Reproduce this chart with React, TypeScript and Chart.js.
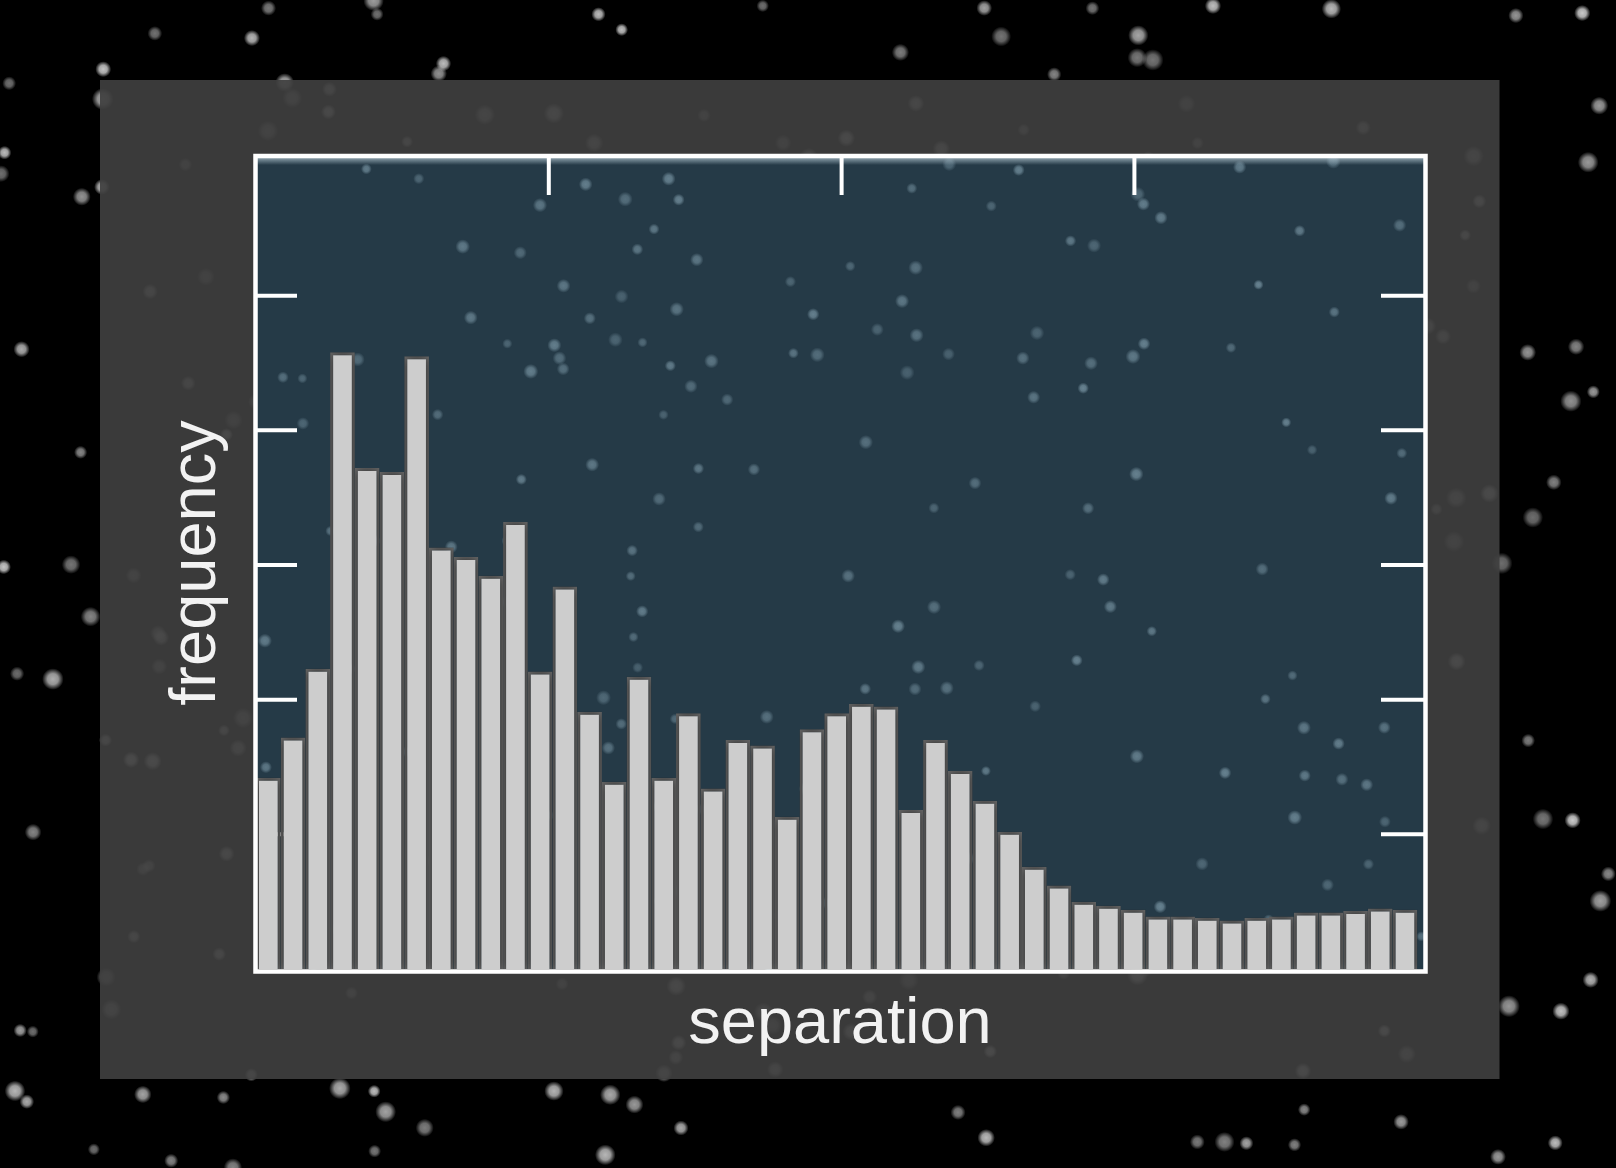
import React, { useEffect, useRef } from "react";
import { Chart, registerables } from "chart.js";

Chart.register(...registerables);

// ---- data ----
const binCenters = [
  0.5, 1.5, 2.5, 3.5, 4.5, 5.5, 6.5, 7.5, 8.5, 9.5,
  10.5, 11.5, 12.5, 13.5, 14.5, 15.5, 16.5, 17.5, 18.5, 19.5,
  20.5, 21.5, 22.5, 23.5, 24.5, 25.5, 26.5, 27.5, 28.5, 29.5,
  30.5, 31.5, 32.5, 33.5, 34.5, 35.5, 36.5, 37.5, 38.5, 39.5,
  40.5, 41.5, 42.5, 43.5, 44.5, 45.5, 46.5,
];
const frequencies = [
  1.42, 1.72, 2.23, 4.58, 3.72, 3.69, 4.55, 3.13, 3.06, 2.92,
  3.32, 2.21, 2.84, 1.91, 1.39, 2.17, 1.42, 1.9, 1.34, 1.7,
  1.66, 1.13, 1.78, 1.9, 1.97, 1.95, 1.18, 1.7, 1.47, 1.25,
  1.02, 0.76, 0.62, 0.5, 0.47, 0.44, 0.39, 0.39, 0.38, 0.36,
  0.38, 0.39, 0.42, 0.42, 0.43, 0.45, 0.44,
];
const yTickValues = [1, 2, 3, 4, 5];
const xTickValues = [11.85, 23.7, 35.55];
const X_MIN = 0;
const X_MAX = 47.27;
const Y_MIN = 0;
const Y_MAX = 6.03;
const xTitle = "separation";
const yTitle = "frequency";

const FONT = '"Liberation Sans", Arial, Helvetica, sans-serif';

function seeded(a: number) {
  return function () {
    a |= 0;
    a = (a + 0x6d2b79f5) | 0;
    let t = Math.imul(a ^ (a >>> 15), 1 | a);
    t = (t + Math.imul(t ^ (t >>> 7), 61 | t)) ^ t;
    return ((t ^ (t >>> 14)) >>> 0) / 4294967296;
  };
}

function softDot(ctx: CanvasRenderingContext2D, x: number, y: number, r: number, rgb: string, a: number) {
  const g = ctx.createRadialGradient(x, y, 0, x, y, r);
  g.addColorStop(0, `rgba(${rgb},${a})`);
  g.addColorStop(0.5, `rgba(${rgb},${a * 0.85})`);
  g.addColorStop(1, `rgba(${rgb},0)`);
  ctx.fillStyle = g;
  ctx.beginPath();
  ctx.arc(x, y, r, 0, Math.PI * 2);
  ctx.fill();
}

const backdropPlugin = {
  id: "backdrop",
  beforeDraw(chart: any) {
    const { ctx, width, height, chartArea: ca, scales } = chart;
    ctx.save();
    // night sky
    ctx.fillStyle = "#000";
    ctx.fillRect(0, 0, width, height);
    const rnd = seeded(11);
    for (let i = 0; i < 300; i++) {
      const x = rnd() * width;
      const y = rnd() * height;
      const r = 6 + rnd() * 5;
      const a = 0.5 + rnd() * 0.45;
      softDot(ctx, x, y, r, "215,215,215", a);
    }
    // grey panel (slightly translucent)
    ctx.fillStyle = "rgba(63,63,63,0.92)";
    const pl = ca.left - 156;
    const pt = ca.top - 77;
    const pr = ca.right + 75.5;
    const pb = ca.bottom + 110;
    ctx.fillRect(pl, pt, pr - pl, pb - pt);
    // plot background
    ctx.fillStyle = "#253a47";
    ctx.fillRect(ca.left, ca.top, ca.right - ca.left, ca.bottom - ca.top);
    const rnd2 = seeded(97);
    for (let i = 0; i < 170; i++) {
      const x = ca.left + rnd2() * (ca.right - ca.left);
      const y = ca.top + rnd2() * (ca.bottom - ca.top);
      const r = 5 + rnd2() * 2.5;
      const a = 0.35 + rnd2() * 0.3;
      softDot(ctx, x, y, r, "140,170,185", a);
    }
    // light band under the top frame
    const band = ctx.createLinearGradient(0, ca.top, 0, ca.top + 8);
    band.addColorStop(0, "rgba(190,210,220,0.75)");
    band.addColorStop(1, "rgba(190,210,220,0)");
    ctx.fillStyle = band;
    ctx.fillRect(ca.left, ca.top, ca.right - ca.left, 8);
    // inward ticks
    ctx.strokeStyle = "#ffffff";
    ctx.lineWidth = 4;
    ctx.lineCap = "butt";
    for (const v of yTickValues) {
      const y = scales.y.getPixelForValue(v);
      ctx.beginPath();
      ctx.moveTo(ca.left, y);
      ctx.lineTo(ca.left + 41, y);
      ctx.moveTo(ca.right - 43, y);
      ctx.lineTo(ca.right, y);
      ctx.stroke();
    }
    for (const v of xTickValues) {
      const x = scales.x.getPixelForValue(v);
      ctx.beginPath();
      ctx.moveTo(x, ca.top);
      ctx.lineTo(x, ca.top + 38);
      ctx.stroke();
    }
    ctx.restore();
  },
  beforeDatasetsDraw(chart: any) {
    const { ctx } = chart;
    ctx.save();
    ctx.shadowColor = "rgba(0,0,0,0.6)";
    ctx.shadowBlur = 10;
  },
  afterDatasetsDraw(chart: any) {
    const { ctx, chartArea: ca } = chart;
    ctx.restore();
    ctx.save();
    ctx.strokeStyle = "#ffffff";
    ctx.lineWidth = 4.5;
    ctx.strokeRect(ca.left - 0.5, ca.top - 1, ca.right - ca.left + 2, ca.bottom - ca.top + 3.5);
    ctx.restore();
  },
};

export default function App() {
  const ref = useRef<HTMLCanvasElement | null>(null);

  useEffect(() => {
    if (!ref.current) return;
    const chart = new Chart(ref.current, {
      type: "bar",
      data: {
        datasets: [
          {
            label: yTitle,
            data: binCenters.map((x, i) => ({ x, y: frequencies[i] })),
            backgroundColor: "#cdcdcd",
            borderColor: "#666666",
            borderWidth: 3,
            barPercentage: 1,
            categoryPercentage: 1,
            inflateAmount: 0,
          } as any,
        ],
      },
      options: {
        responsive: false,
        animation: false,
        events: [],
        layout: { padding: { left: 157.7, right: 192, top: 157, bottom: 104 } },
        plugins: {
          legend: { display: false },
          tooltip: { enabled: false },
        },
        scales: {
          x: {
            type: "linear",
            position: "bottom",
            offset: false,
            min: X_MIN,
            max: X_MAX,
            grid: { display: false, drawTicks: false, offset: false },
            border: { display: false },
            ticks: { display: false },
            title: {
              display: true,
              text: xTitle,
              color: "#f2f2f2",
              font: { family: FONT, size: 65, lineHeight: 1.2 },
              padding: { top: 17, bottom: 0 },
            },
          },
          y: {
            type: "linear",
            position: "left",
            min: Y_MIN,
            max: Y_MAX,
            grid: { display: false, drawTicks: false },
            border: { display: false },
            ticks: { display: false },
            title: {
              display: true,
              text: yTitle,
              color: "#f2f2f2",
              font: { family: FONT, size: 65, lineHeight: 1.2 },
              padding: { top: 0, bottom: 20.3 },
            },
          },
        },
      } as any,
      plugins: [backdropPlugin],
    });
    return () => chart.destroy();
  }, []);

  return (
    <div style={{ position: "fixed", left: 0, top: 0, width: 1616, height: 1168, background: "#000" }}>
      <canvas ref={ref} width={1616} height={1168} style={{ display: "block", width: 1616, height: 1168 }} />
    </div>
  );
}
